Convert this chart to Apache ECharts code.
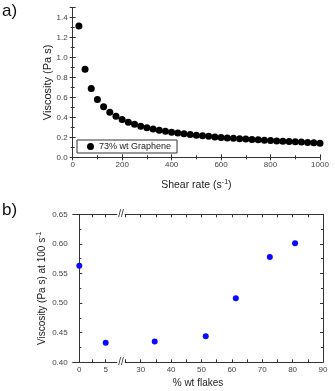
<!DOCTYPE html>
<html>
<head>
<meta charset="utf-8">
<script src="https://cdn.jsdelivr.net/npm/echarts@6/dist/echarts.min.js"></script>
<style>
  html, body { margin: 0; padding: 0; background: #fff; }
  #chart { width: 335px; height: 391px; }
</style>
</head>
<body>
<div id="chart"></div>
<script>
// panel a) viscosity vs shear rate
const shearRate = [25, 50, 75, 100, 125, 150, 175, 200, 225, 250, 275, 300, 325, 350, 375, 400,
  425, 450, 475, 500, 525, 550, 575, 600, 625, 650, 675, 700, 725, 750, 775, 800,
  825, 850, 875, 900, 925, 950, 975, 1000];
const viscosity = [1.315, 0.882, 0.690, 0.580, 0.505, 0.452, 0.410, 0.378, 0.352, 0.330, 0.312, 0.296,
  0.283, 0.271, 0.261, 0.251, 0.243, 0.236, 0.229, 0.222, 0.216, 0.211, 0.204, 0.199,
  0.194, 0.190, 0.186, 0.182, 0.178, 0.175, 0.171, 0.168, 0.164, 0.161, 0.158, 0.155,
  0.152, 0.149, 0.146, 0.140];

// panel b) viscosity at 100 1/s vs flake content (broken x axis)
const flakesLow = [0, 5];
const viscLow = [0.563, 0.433];
const flakesHigh = [34.6, 51.4, 61.3, 72.5, 80.8];
const viscHigh = [0.435, 0.444, 0.508, 0.578, 0.601];
const lowTicks = [0, 2.5, 5, 7.5];
const lowLabels = [0, 5];
const highTicks = [25, 30, 35, 40, 45, 50, 55, 60, 65, 70, 75, 80, 85, 90];
const highLabels = [30, 40, 50, 60, 70, 80, 90];

const lineColor = '#333';
const labelStyle = { fontSize: 8, color: '#444', fontFamily: 'Liberation Sans' };
const sup = { fontSize: 7, color: '#222', verticalAlign: 'top', padding: [0, 0, 6, 0] };
const nameStyle = { fontSize: 10.5, color: '#222', fontFamily: 'Liberation Sans', rich: { sup: sup } };

function frame(extra) {
  return Object.assign({
    type: 'value',
    splitLine: { show: false },
    nameMoveOverlap: false,
    axisLine: { show: true, lineStyle: { color: lineColor, width: 1 } },
    axisTick: { show: true, inside: true, length: 3, lineStyle: { color: lineColor } },
    minorTick: { show: true, splitNumber: 2, length: 2, lineStyle: { color: lineColor } },
    axisLabel: Object.assign({ margin: 3 }, labelStyle),
    nameTextStyle: nameStyle
  }, extra);
}

const chart = echarts.init(document.getElementById('chart'));
chart.setOption({
  animation: false,
  grid: [
    { left: 72.7, top: 7.5, width: 247.3, height: 149.8 },
    { left: 72.7, top: 214.3, width: 48.3, height: 148 },
    { left: 121, top: 214.3, width: 202, height: 148 }
  ],
  legend: {
    data: ['73% wt Graphene'],
    left: 77, top: 140,
    orient: 'horizontal',
    icon: 'circle',
    itemWidth: 7, itemHeight: 7,
    padding: [2, 6, 2, 10],
    borderColor: '#333', borderWidth: 1,
    backgroundColor: '#fff',
    textStyle: { fontSize: 9, color: '#222', fontFamily: 'Liberation Sans' }
  },
  xAxis: [
    frame({ gridIndex: 0, position: 'bottom', min: 0, max: 1000, interval: 200,
      axisLabel: Object.assign({ margin: 3, formatter: v => String(v) }, labelStyle),
      name: 'Shear rate (s{sup|-1})', nameLocation: 'middle', nameGap: 21 }),
    frame({ gridIndex: 0, position: 'top', min: 0, max: 1000, interval: 200,
      axisLabel: { show: false } }),
    frame({ gridIndex: 1, position: 'bottom', min: -1.25, max: 7.9,
      minorTick: { show: false },
      axisTick: { show: true, inside: true, length: 3, customValues: lowTicks, lineStyle: { color: lineColor } },
      axisLabel: Object.assign({ margin: 3, customValues: lowLabels }, labelStyle) }),
    frame({ gridIndex: 1, position: 'top', min: -1.25, max: 7.9,
      minorTick: { show: false },
      axisTick: { show: true, inside: true, length: 3, customValues: lowTicks, lineStyle: { color: lineColor } },
      axisLabel: { show: false } }),
    frame({ gridIndex: 2, position: 'bottom', min: 23.5, max: 90,
      minorTick: { show: false },
      axisTick: { show: true, inside: true, length: 3, customValues: highTicks, lineStyle: { color: lineColor } },
      axisLabel: Object.assign({ margin: 3, customValues: highLabels }, labelStyle) }),
    frame({ gridIndex: 2, position: 'top', min: 23.5, max: 90,
      minorTick: { show: false },
      axisTick: { show: true, inside: true, length: 3, customValues: highTicks, lineStyle: { color: lineColor } },
      axisLabel: { show: false } })
  ],
  yAxis: [
    frame({ gridIndex: 0, position: 'left', min: 0, max: 1.5, interval: 0.2,
      axisLabel: Object.assign({ margin: 5, showMaxLabel: false, formatter: v => v.toFixed(1) }, labelStyle),
      name: 'Viscosity (Pa s)', nameLocation: 'middle', nameGap: 19,
      nameTextStyle: Object.assign({}, nameStyle, { fontSize: 11 }) }),
    frame({ gridIndex: 0, position: 'right', min: 0, max: 1.5, interval: 0.2,
      axisLabel: { show: false } }),
    frame({ gridIndex: 1, position: 'left', min: 0.4, max: 0.65, interval: 0.05,
      axisLabel: Object.assign({ margin: 5, formatter: v => v.toFixed(2) }, labelStyle),
      name: 'Viscosity (Pa s) at 100 s{sup|-1}', nameLocation: 'middle', nameGap: 24,
      nameTextStyle: Object.assign({}, nameStyle, { fontSize: 10 }) }),
    frame({ gridIndex: 2, position: 'right', min: 0.4, max: 0.65, interval: 0.05,
      axisLabel: { show: false } })
  ],
  series: [
    {
      name: '73% wt Graphene', type: 'scatter', xAxisIndex: 0, yAxisIndex: 0,
      symbolSize: 7, itemStyle: { color: '#000', opacity: 1 },
      data: shearRate.map((x, i) => [x, viscosity[i]])
    },
    {
      name: 'low', type: 'scatter', xAxisIndex: 2, yAxisIndex: 2,
      symbolSize: 6, itemStyle: { color: '#0a0aff', opacity: 1 },
      data: flakesLow.map((x, i) => [x, viscLow[i]])
    },
    {
      name: 'high', type: 'scatter', xAxisIndex: 4, yAxisIndex: 3,
      symbolSize: 6, itemStyle: { color: '#0a0aff', opacity: 1 },
      data: flakesHigh.map((x, i) => [x, viscHigh[i]])
    }
  ],
  graphic: [
    { type: 'text', left: 2, top: 3, style: { text: 'a)', fontSize: 17, fill: '#111', fontFamily: 'Liberation Sans' } },
    { type: 'text', left: 2, top: 202, style: { text: 'b)', fontSize: 17, fill: '#111', fontFamily: 'Liberation Sans' } },
    { type: 'text', x: 198, y: 383, style: { text: '% wt flakes', fontSize: 10, fill: '#222', fontFamily: 'Liberation Sans', align: 'center', verticalAlign: 'middle' } },
    { type: 'text', x: 121, y: 214.3, z: 10, style: { text: '//', fontSize: 10, fill: '#333', fontFamily: 'Liberation Sans', align: 'center', verticalAlign: 'middle', backgroundColor: '#fff', padding: [0, 1] } },
    { type: 'text', x: 121, y: 362.3, z: 10, style: { text: '//', fontSize: 10, fill: '#333', fontFamily: 'Liberation Sans', align: 'center', verticalAlign: 'middle', backgroundColor: '#fff', padding: [0, 1] } }
  ]
});
</script>
</body>
</html>
